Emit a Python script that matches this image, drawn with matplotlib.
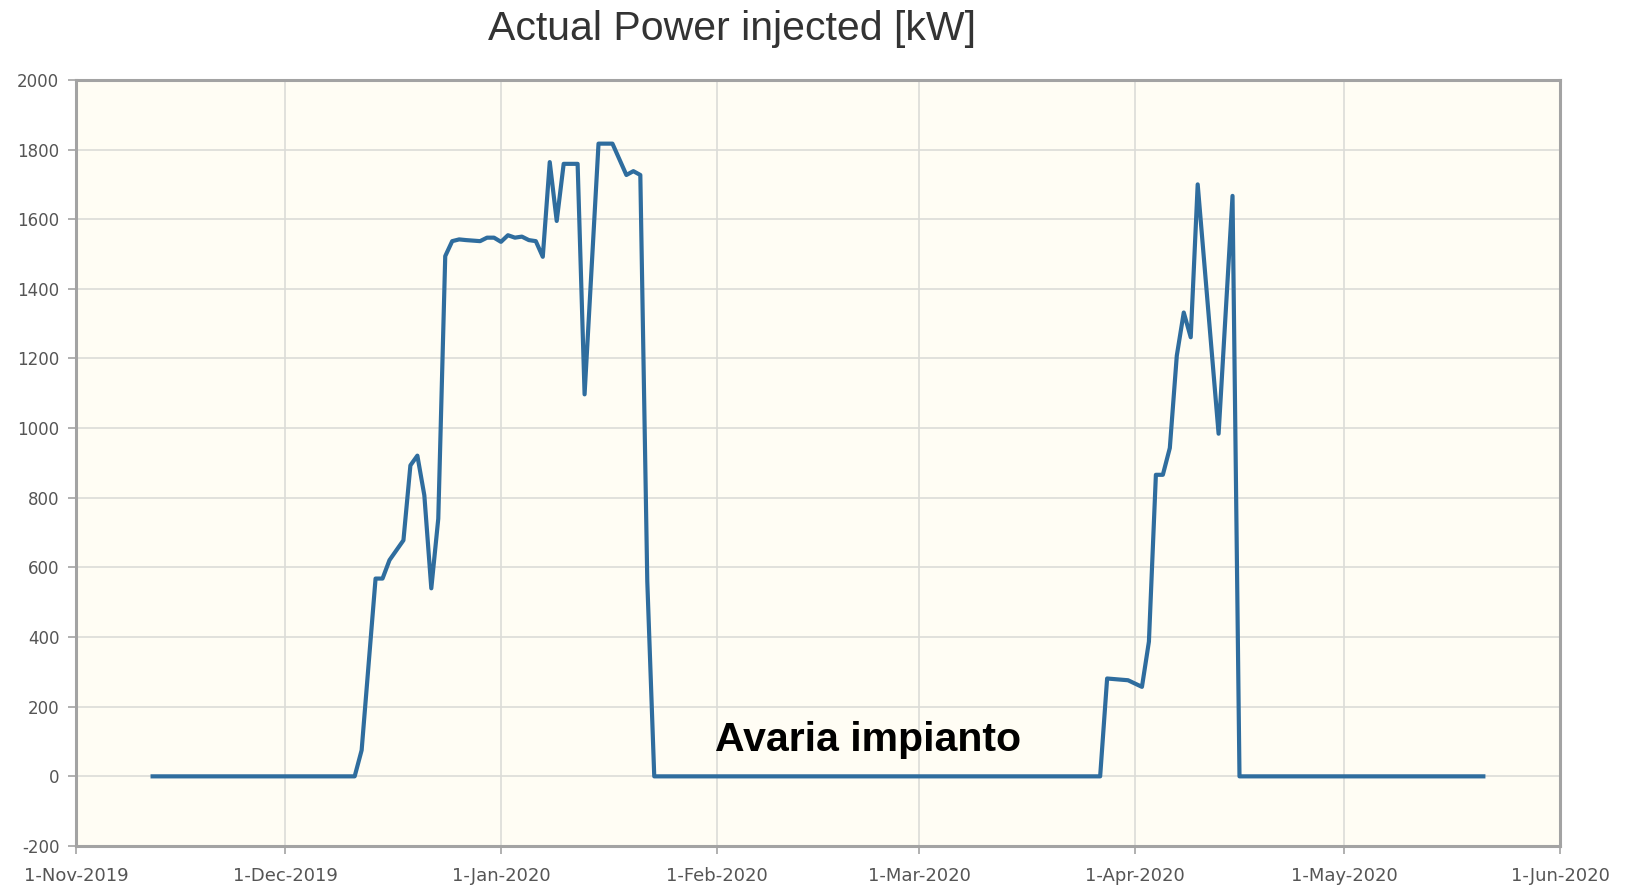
import numpy as np
import matplotlib.pyplot as plt

# dati (kW)
dates = np.array([
    '2019-11-12', '2019-12-11', '2019-12-12', '2019-12-14', '2019-12-15',
    '2019-12-16', '2019-12-18', '2019-12-19', '2019-12-20', '2019-12-21',
    '2019-12-22', '2019-12-23', '2019-12-24', '2019-12-25', '2019-12-26',
    '2019-12-27', '2019-12-29', '2019-12-30', '2019-12-31', '2020-01-01',
    '2020-01-02', '2020-01-03', '2020-01-04', '2020-01-05', '2020-01-06',
    '2020-01-07', '2020-01-08', '2020-01-09', '2020-01-10', '2020-01-12',
    '2020-01-13', '2020-01-15', '2020-01-17', '2020-01-19', '2020-01-20',
    '2020-01-21', '2020-01-22', '2020-01-23', '2020-03-27', '2020-03-28',
    '2020-03-31', '2020-04-02', '2020-04-03', '2020-04-04', '2020-04-05',
    '2020-04-06', '2020-04-07', '2020-04-08', '2020-04-09', '2020-04-10',
    '2020-04-13', '2020-04-15', '2020-04-16', '2020-05-21',
], dtype='datetime64[D]')
power = np.array([
    0, 0, 75, 568, 568,
    621, 678, 893, 921, 807,
    540, 740, 1494, 1537, 1542,
    1540, 1537, 1547, 1547, 1535,
    1554, 1547, 1550, 1540, 1537,
    1492, 1764, 1595, 1759, 1759,
    1097, 1817, 1817, 1727, 1738,
    1727, 560, 0, 0, 281,
    276, 257, 387, 866, 866,
    943, 1208, 1332, 1261, 1700,
    984, 1667, 0, 0,
])

month_ticks = np.array(['2019-11-01', '2019-12-01', '2020-01-01', '2020-02-01',
                        '2020-03-01', '2020-04-01', '2020-05-01', '2020-06-01'],
                       dtype='datetime64[D]')
month_labels = ['1-Nov-2019', '1-Dec-2019', '1-Jan-2020', '1-Feb-2020',
                '1-Mar-2020', '1-Apr-2020', '1-May-2020', '1-Jun-2020']
y_ticks = np.arange(-200, 2001, 200)

fig = plt.figure(figsize=(16.34, 8.88), dpi=100)
ax = fig.add_axes([0.0465, 0.0473, 0.9082, 0.8627])
ax.set_facecolor('#fffdf4')

ax.plot(dates.astype('datetime64[ns]'), power, color='#2f6d9e', lw=3,
        solid_joinstyle='round', zorder=3)

ax.set_xlim(month_ticks[0], month_ticks[-1])
ax.set_ylim(-200, 2000)
ax.set_xticks(month_ticks, month_labels)
ax.set_yticks(y_ticks, [str(v) for v in y_ticks])
ax.grid(True, color='#dcdcd8', lw=1.2, zorder=0)

for s in ax.spines.values():
    s.set_color('#a3a3a3')
    s.set_linewidth(2.2)
ax.tick_params(axis='both', colors='#a3a3a3', labelcolor='#555555',
               labelsize=12, length=6, width=1.2)
ax.tick_params(axis='x', pad=9, labelsize=13)
ax.tick_params(axis='y', pad=6)

fig.text(0.448, 0.967, 'Actual Power injected [kW]', ha='center', va='center',
         fontsize=29.5, color='#333333', family='Liberation Sans')

ax.text(np.datetime64('2020-01-31T18'), 105, 'Avaria impianto', ha='left',
        va='center', fontsize=29.5, fontweight='bold', color='black',
        family='Liberation Sans')

fig.savefig('out.png', dpi=100, facecolor='white')
